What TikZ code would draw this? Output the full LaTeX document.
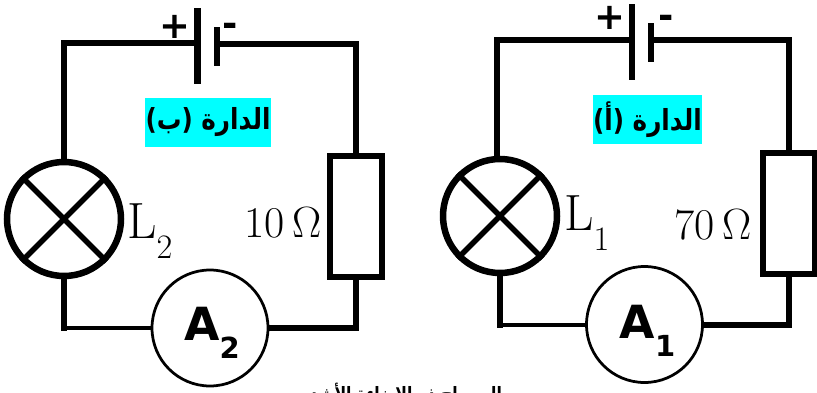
\documentclass[tikz,border=0pt]{standalone}
\usepackage{fontspec}
\newfontfamily\arabicfont[Script=Arabic,FakeStretch=0.85,BoldFont={DejaVu Sans Bold}]{DejaVu Sans}
\newfontfamily\metafont{DejaVu Sans Bold}
\TeXXeTstate=1
\definecolor{boxcyan}{RGB}{0,255,255}
\def\lamplabel#1{L\raisebox{-11.4pt}{\fontsize{19.5}{20}\selectfont #1}}
\def\meterlabel#1{A\raisebox{-10.6pt}{\fontsize{16.5}{17}\selectfont #1}}
\tikzset{
	wire/.style={line width=1.2mm},
	thinwire/.style={line width=0.8mm},
	lampnode/.style={draw, circle, line width=1.3mm, minimum size=2.28cm, inner sep=0},
	cross/.style={line width=1.1mm},
	resbox/.style={draw, rectangle, line width=1.3mm, minimum width=1.04cm, minimum height=2.42cm, inner sep=0},
	meternode/.style={draw, circle, line width=0.55mm, minimum size=2.32cm, inner sep=0},
	meterlab/.style={font=\metafont\fontsize{26}{28}\selectfont, inner sep=0},
	longplate/.style={fill=black, minimum width=1.3mm, minimum height=1.52cm, inner sep=0, outer sep=0},
	shortplate/.style={fill=black, minimum width=1.3mm, minimum height=0.78cm, inner sep=0, outer sep=0},
	plusmark/.style={font=\metafont\fontsize{21}{22}\selectfont, inner sep=0},
	minusmark/.style={font=\metafont\fontsize{21}{22}\selectfont, inner sep=0},
	lamplab/.style={anchor=base west, font=\fontsize{29}{30}\selectfont, inner sep=0},
	ohmlab/.style={anchor=base west, font=\fontsize{25}{26}\selectfont, inner sep=0},
	titlebox/.style={fill=boxcyan, minimum height=0.98cm, inner sep=0, font=\arabicfont\bfseries\fontsize{16.5}{18}\selectfont},
}
\begin{document}
\begin{tikzpicture}
	\useasboundingbox (0, 0) rectangle (16.34, 7.84);
	
	%%%%% CIRCUIT B %%%%%
	
	\node[longplate] (cell2p) at (3.95, 6.92) {};
	\node[shortplate] (cell2m) at (4.34, 6.91) {};
	\node[plusmark] (plus2) at (3.5, 7.3) {+};
	\node[minusmark] (minus2) at (4.6, 7.24) {-};
	
	\node[lampnode] (L2lamp) at (1.28, 3.46) {};
	\draw[cross] (L2lamp.45) -- (L2lamp.225);
	\draw[cross] (L2lamp.135) -- (L2lamp.315);
	\node[lamplab] (L2lab) at (2.54, 3.08) {\lamplabel{2}};
	
	\node[resbox] (R2box) at (7.12, 3.51) {};
	\node[ohmlab] (R2lab) at (4.88, 3.1) {10\,$\Omega$};
	
	\node[meternode] (A2meter) at (4.2, 1.28) {};
	\node[meterlab] (A2lab) at ([xshift=0.4mm, yshift=-1mm]A2meter.center) {\meterlabel{2}};
	
	\node[titlebox, minimum width=2.52cm] (title2) at (4.16, 5.395) {\beginR الدارة (ب)\endR};
	
	\draw[wire] (L2lamp.north) |- ([yshift=0.6mm]cell2p.west);
	\draw[wire] ([yshift=0.6mm]cell2m.east) -| (R2box.north);
	\draw[wire] (R2box.south) |- (A2meter.east);
	\coordinate (corner2) at (L2lamp.south |- A2meter.west);
	\draw[thinwire] (corner2) -- (A2meter.west);
	\draw[wire, line cap=rect] (L2lamp.south) -- (corner2);
	
	%%%%% CIRCUIT A %%%%%
	
	\node[longplate] (cell1p) at (12.64, 7.0) {};
	\node[shortplate] (cell1m) at (13.02, 7.0) {};
	\node[plusmark] (plus1) at (12.2, 7.48) {+};
	\node[minusmark] (minus1) at (13.32, 7.4) {-};
	
	\node[lampnode] (L1lamp) at (10, 3.52) {};
	\draw[cross] (L1lamp.45) -- (L1lamp.225);
	\draw[cross] (L1lamp.135) -- (L1lamp.315);
	\node[lamplab] (L1lab) at (11.28, 3.24) {\lamplabel{1}};
	
	\node[resbox] (R1box) at (15.78, 3.57) {};
	\node[ohmlab] (R1lab) at (13.48, 3.06) {70\,$\Omega$};
	
	\node[meternode] (A1meter) at (12.89, 1.35) {};
	\node[meterlab] (A1lab) at ([xshift=0.6mm, yshift=-1.3mm]A1meter.center) {\meterlabel{1}};
	
	\node[titlebox, minimum width=2.18cm] (title1) at (12.95, 5.45) {\beginR الدارة (أ)\endR};
	
	\draw[wire] ([xshift=-0.6mm]L1lamp.north) |- ([yshift=0.4mm]cell1p.west);
	\draw[wire] ([yshift=0.4mm]cell1m.east) -| (R1box.north);
	\draw[wire] (R1box.south) |- (A1meter.east);
	\coordinate (corner1) at (L1lamp.south |- A1meter.west);
	\draw[thinwire] (corner1) -- (A1meter.west);
	\draw[wire, line cap=rect] (L1lamp.south) -- (corner1);
	
	%%%%% CUT LINE AT THE BOTTOM %%%%%
	
	\begin{scope}
		\clip (0, 0) rectangle (16.34, 7.84);
		\node[anchor=base, inner sep=0, font=\arabicfont\bfseries\fontsize{10.5}{12}\selectfont] (caption) at (8.12, -0.16) {\beginR المصباح ذو الإضاءة الأشد\endR};
	\end{scope}
\end{tikzpicture}
\end{document}
